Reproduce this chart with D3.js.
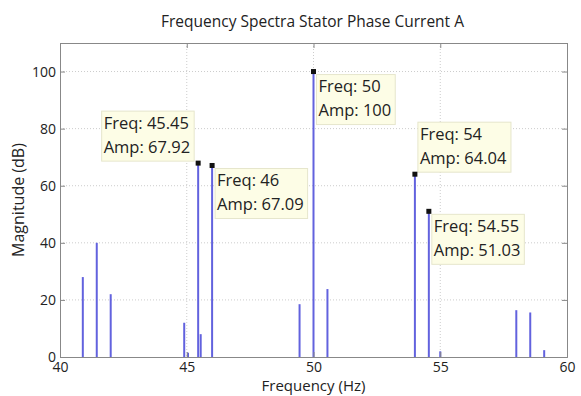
<!DOCTYPE html>
<html>
<head>
<meta charset="utf-8">
<script src="https://cdn.jsdelivr.net/npm/d3@7"></script>
<style>
  body { margin: 0; background: #fff; }
  svg text { font-family: "Open Sans", "Noto Sans", sans-serif; fill: #222; }
</style>
</head>
<body>
<div id="chart"></div>
<script>
'use strict'

// spectral lines (Hz, dB)
const freqs = [40.9, 41.45, 42.0, 44.9, 45.05, 45.45, 45.55, 46.0, 49.45, 50.0, 50.55, 54.0, 54.55, 55.0, 58.0, 58.55, 59.1]
const amps = [28, 40, 22, 12, 1.5, 67.92, 8, 67.09, 18.5, 100, 23.8, 64.04, 51.03, 2, 16.4, 15.6, 2.4]

// data tips: freq, amp, which side the box sits on
const tipFreqs = [45.45, 46, 50, 54, 54.55]
const tipAmps = [67.92, 67.09, 100, 64.04, 51.03]
const tipSides = ['upleft', 'downright', 'downright', 'upright', 'downright']

const xTicks = [40, 45, 50, 55, 60]
const yTicks = [0, 20, 40, 60, 80, 100]

const svgWidth = 581
const svgHeight = 396
const margin = { left: 60, right: 14, top: 43, bottom: 39 }
const width = svgWidth - margin.left - margin.right
const height = svgHeight - margin.top - margin.bottom

const svg = d3.select('#chart')
    .append('svg')
    .attr('width', svgWidth)
    .attr('height', svgHeight)

const g = svg.append('g')
    .attr('transform', `translate(${margin.left},${margin.top})`)

const x = d3.scaleLinear().domain([40, 60]).range([0, width])
const y = d3.scaleLinear().domain([0, 110]).range([height, 0])

// grid
g.append('g')
    .selectAll('line')
    .data(xTicks.slice(1, -1))
    .join('line')
    .attr('x1', d => x(d)).attr('x2', d => x(d))
    .attr('y1', 0).attr('y2', height)
    .attr('stroke', '#ccc')
    .attr('stroke-dasharray', '1,2')

g.append('g')
    .selectAll('line')
    .data(yTicks.slice(1))
    .join('line')
    .attr('x1', 0).attr('x2', width)
    .attr('y1', d => y(d)).attr('y2', d => y(d))
    .attr('stroke', '#ccc')
    .attr('stroke-dasharray', '1,2')

// spectrum stems
g.append('g')
    .selectAll('line')
    .data(freqs.map((f, i) => ({ f, a: amps[i] })))
    .join('line')
    .attr('x1', d => x(d.f)).attr('x2', d => x(d.f))
    .attr('y1', y(0)).attr('y2', d => y(d.a))
    .attr('stroke', '#6262de')
    .attr('stroke-width', 2)

// axes (ticks inside, mirrored on top/right like matlab)
g.append('g')
    .attr('transform', `translate(0,${height})`)
    .call(d3.axisBottom(x).tickValues(xTicks).tickSize(-5).tickPadding(5))
g.append('g')
    .call(d3.axisLeft(y).tickValues(yTicks).tickSize(-5).tickPadding(4))
g.append('g')
    .call(d3.axisTop(x).tickValues(xTicks).tickSize(-5).tickFormat(''))
g.append('g')
    .attr('transform', `translate(${width},0)`)
    .call(d3.axisRight(y).tickValues(yTicks).tickSize(-5).tickFormat(''))

g.selectAll('.domain').attr('stroke', '#888')
g.selectAll('.tick line').attr('stroke', '#888')
g.selectAll('.tick text')
    .style('font-size', '14px')
    .style('font-family', '"Open Sans", sans-serif')
    .attr('fill', '#111')

// data tips
const tips = g.append('g')
tipFreqs.forEach((f, i) => {
    const mx = x(f), my = y(tipAmps[i])
    const tip = tips.append('g')
    const rect = tip.append('rect')
        .attr('fill', '#fdfde6')
        .attr('stroke', '#e6e6cc')
    const txt = tip.append('text').style('font-size', '16.5px')
    txt.append('tspan').attr('x', 0).attr('dy', '0.95em').text(`Freq: ${f}`)
    txt.append('tspan').attr('x', 0).attr('dy', '1.45em').text(`Amp: ${tipAmps[i]}`)
    const bb = txt.node().getBBox()
    const bw = bb.width + 6, bh = 50
    const side = tipSides[i]
    const bx = side === 'upleft' ? mx - 4 - bw : mx + 3
    const by = side.startsWith('up') ? my - 2 - bh : my + 3
    rect.attr('x', bx).attr('y', by).attr('width', bw).attr('height', bh)
    txt.attr('transform', `translate(${bx + 2},${by + 2})`)
    tips.append('rect')
        .attr('x', mx - 2.5).attr('y', my - 2.5)
        .attr('width', 5).attr('height', 5)
        .attr('fill', '#111')
})

// titles
svg.append('text')
    .attr('x', margin.left + width / 2 - 1).attr('y', 27)
    .attr('text-anchor', 'middle')
    .style('font-size', '15.5px')
    .text('Frequency Spectra Stator Phase Current A')

svg.append('text')
    .attr('x', margin.left + width / 2).attr('y', 391)
    .attr('text-anchor', 'middle')
    .style('font-size', '15px')
    .text('Frequency (Hz)')

svg.append('text')
    .attr('transform', `translate(24,${margin.top + height / 2}) rotate(-90)`)
    .attr('text-anchor', 'middle')
    .style('font-size', '16px')
    .text('Magnitude (dB)')
</script>
</body>
</html>
